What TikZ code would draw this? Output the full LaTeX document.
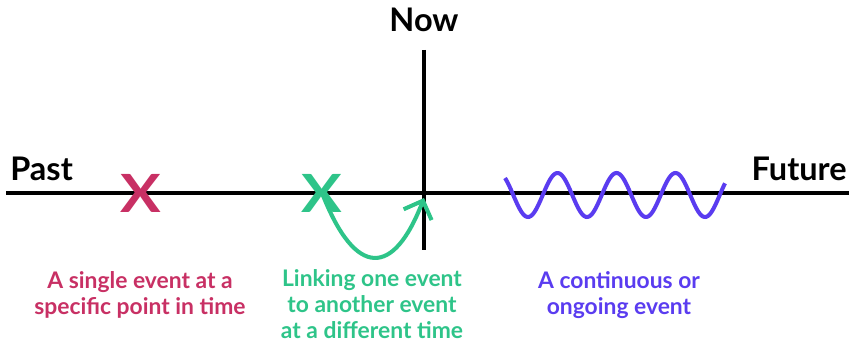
\documentclass[tikz,border=0pt]{standalone}
\usepackage{fontspec}
\setmainfont{Lato}
\usetikzlibrary{arrows.meta}
\definecolor{pastred}{RGB}{200, 48, 100}
\definecolor{linkgreen}{RGB}{46, 196, 137}
\definecolor{ongoingblue}{RGB}{90, 60, 240}
\newcommand{\crossmark}{\scalebox{1.15}[1]{X}}
\tikzset{
  axis/.style={line width=2.3pt, black},
  heading/.style={font=\bfseries\fontsize{18.5}{20}\selectfont, inner sep=0pt},
  caption/.style={font=\bfseries\fontsize{13}{14.8}\selectfont, align=center,
                  inner sep=0pt, anchor=north},
  xmark/.style={font=\bfseries\fontsize{30}{30}\selectfont, inner sep=0pt},
  link/.style={line width=2.3pt, linkgreen, -{Straight Barb[length=3mm, width=6mm]}},
  wave/.style={line width=2.3pt, ongoingblue},
}

\begin{document}
\begin{tikzpicture}[x=0.02cm, y=-0.02cm]
  \useasboundingbox (0,0) rectangle (849,341);

  % timeline
  \coordinate (west) at (6,193);
  \coordinate (east) at (849,193);
  \coordinate (top) at (424,50);
  \coordinate (bottom) at (424,250);
  \coordinate (cross) at (424,198);
  \draw[axis] (west) -- (east);
  \draw[axis] (top) -- (bottom);

  \node[heading, anchor=base] (now) at (424,32) {Now};
  \node[heading, anchor=base west] (past) at (10,180) {Past};
  \node[heading, anchor=base east] (future) at (847,180) {Future};

  % events
  \node[xmark, text=pastred] (xsingle) at (141,193) {\crossmark};
  \node[xmark, text=linkgreen] (xlink) at (322,193) {\crossmark};
  \draw[link] (xlink.center) .. controls (356,280) and (394,276) .. (cross);
  \draw[wave] plot[domain=505:725, samples=200, smooth] (\x, {195 + 22*cos(6.1017*(\x-528))});

  \node[caption, text=pastred] (single) at (140,271) {A single event at a\\specific point in time};
  \node[caption, text=linkgreen] (linking) at (372,269) {Linking one event\\to another event\\at a different time};
  \node[caption, text=ongoingblue] (ongoing) at (619,271) {A continuous or\\ongoing event};
\end{tikzpicture}
\end{document}
